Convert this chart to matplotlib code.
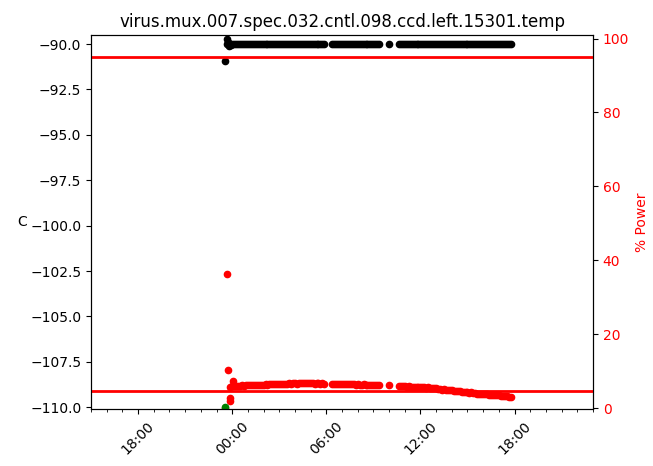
import datetime as dt

import matplotlib
matplotlib.use("Agg")
import matplotlib.pyplot as plt
import matplotlib.dates as mdates

# --- data (hours relative to midnight) ---
base = dt.datetime(2016, 5, 11)

# startup transient
temp_start_h = [-0.43, -0.35, -0.30, -0.25, -0.18, -0.12, -0.05]
temp_start = [-90.92, -90.0, -89.7, -89.9, -90.1, -90.0, -90.05]
power_start_h = [-0.45, -0.34, -0.27, -0.17, -0.14, -0.12, 0.08]
power_start = [0.0, 36.2, 10.3, 2.0, 2.7, 5.8, 7.4]
green_h = [-0.45]
green_val = [0.4]

# steady running, 7.5 minute samples, with the gaps seen in the log
run_h = [0.0, 0.125, 0.25, 0.375, 0.5, 0.625, 0.75, 0.875,
         1.0, 1.125, 1.25, 1.375, 1.5, 1.625, 1.75, 1.875,
         2.0, 2.125, 2.25, 2.375, 2.5, 2.625, 2.75, 2.875,
         3.0, 3.125, 3.25, 3.375, 3.5, 3.625, 3.75, 3.875,
         4.0, 4.125, 4.25, 4.375, 4.5, 4.625, 4.75, 4.875,
         5.0, 5.125, 5.25, 5.375, 5.5, 5.625, 5.75, 5.875,
         6.375, 6.5, 6.625, 6.75, 6.875, 7.0, 7.125, 7.25,
         7.375, 7.5, 7.625, 7.75, 7.875, 8.0, 8.125, 8.25,
         8.375, 8.5, 8.625, 8.75, 8.875, 9.0, 9.125, 9.25, 9.375,
         10.0,
         10.625, 10.75, 10.875, 11.0, 11.125, 11.25, 11.375, 11.5,
         11.625, 11.75, 11.875, 12.0, 12.125, 12.25, 12.375, 12.5,
         12.625, 12.75, 12.875, 13.0, 13.125, 13.25, 13.375, 13.5,
         13.625, 13.75, 13.875, 14.0, 14.125, 14.25, 14.375, 14.5,
         14.625, 14.75, 14.875, 15.0, 15.125, 15.25, 15.375, 15.5,
         15.625, 15.75, 15.875, 16.0, 16.125, 16.25, 16.375, 16.5,
         16.625, 16.75, 16.875, 17.0, 17.125, 17.25, 17.375, 17.5,
         17.625, 17.75]
run_temp = [-90.0, -90.01, -90.0, -89.99, -90.0, -90.0, -90.01, -90.0,
            -90.0, -89.99, -90.0, -90.0, -90.01, -90.0, -90.0, -89.99,
            -90.0, -90.0, -90.01, -90.0, -90.0, -89.99, -90.0, -90.0,
            -90.01, -90.0, -90.0, -89.99, -90.0, -90.0, -90.01, -90.0,
            -90.0, -89.99, -90.0, -90.0, -90.01, -90.0, -90.0, -89.99,
            -90.0, -90.0, -90.01, -90.0, -90.0, -89.99, -90.0, -90.0,
            -90.0, -90.01, -90.0, -90.0, -89.99, -90.0, -90.0, -90.01,
            -90.0, -90.0, -89.99, -90.0, -90.0, -90.01, -90.0, -90.0,
            -89.99, -90.0, -90.0, -90.01, -90.0, -90.0, -89.99, -90.0, -90.0,
            -90.0,
            -90.0, -90.01, -90.0, -90.0, -89.99, -90.0, -90.0, -90.01,
            -90.0, -90.0, -89.99, -90.0, -90.0, -90.01, -90.0, -90.0,
            -89.99, -90.0, -90.0, -90.01, -90.0, -90.0, -89.99, -90.0,
            -90.0, -90.01, -90.0, -90.0, -89.99, -90.0, -90.0, -90.01,
            -90.0, -90.0, -89.99, -90.0, -90.0, -90.01, -90.0, -90.0,
            -89.99, -90.0, -90.0, -90.01, -90.0, -90.0, -89.99, -90.0,
            -90.0, -90.01, -90.0, -90.0, -89.99, -90.0, -90.0, -90.01,
            -90.0, -90.0]
run_power = [6.0, 5.9, 5.9, 6.0, 6.0, 6.1, 6.0, 6.1,
             6.1, 6.2, 6.1, 6.2, 6.2, 6.3, 6.2, 6.3,
             6.3, 6.4, 6.3, 6.4, 6.4, 6.5, 6.4, 6.5,
             6.5, 6.6, 6.5, 6.6, 6.6, 6.7, 6.6, 6.7,
             6.7, 6.6, 6.7, 6.8, 6.7, 6.7, 6.8, 6.7,
             6.7, 6.8, 6.6, 6.7, 6.7, 6.6, 6.7, 6.6,
             6.6, 6.6, 6.5, 6.6, 6.5, 6.5, 6.5, 6.4,
             6.5, 6.4, 6.5, 6.4, 6.3, 6.4, 6.3, 6.3,
             6.4, 6.2, 6.3, 6.2, 6.2, 6.1, 6.2, 6.1, 6.1,
             6.1,
             6.0, 5.9, 6.0, 5.9, 5.8, 5.9, 5.8, 5.8,
             5.7, 5.8, 5.7, 5.7, 5.6, 5.6, 5.5, 5.6,
             5.4, 5.5, 5.3, 5.3, 5.2, 5.2, 5.0, 5.1,
             4.9, 4.9, 4.8, 4.8, 4.6, 4.7, 4.5, 4.5,
             4.4, 4.4, 4.2, 4.3, 4.1, 4.2, 4.0, 4.0,
             3.9, 3.9, 3.8, 3.8, 3.7, 3.7, 3.6, 3.6,
             3.5, 3.5, 3.4, 3.4, 3.3, 3.3, 3.2, 3.2,
             3.1, 3.0]

# power limit lines
power_limits = [95.0, 4.5]


def to_dates(hours):
    return [base + dt.timedelta(hours=h) for h in hours]


fig = plt.figure(figsize=(6.53, 4.66), dpi=100)
ax = fig.add_axes([0.1394, 0.1223, 0.7687, 0.8026])
ax2 = ax.twinx()

ms = 4.5
ax.plot(to_dates(temp_start_h), temp_start, 'ko', ms=ms)
ax.plot(to_dates(run_h), run_temp, 'ko', ms=ms)

for lim in power_limits:
    ax2.axhline(lim, color='red', lw=2)
ax2.plot(to_dates(power_start_h), power_start, 'ro', ms=ms)
ax2.plot(to_dates(run_h), run_power, 'ro', ms=ms)
ax2.plot(to_dates(green_h), green_val, 'o', color='green', ms=ms)

ax.set_xlim(base - dt.timedelta(hours=9), base + dt.timedelta(hours=23))
ax.set_ylim(-110.1, -89.5)
ax2.set_ylim(-0.27, 100.95)

ax.xaxis.set_major_locator(mdates.HourLocator(byhour=[0, 6, 12, 18]))
ax.xaxis.set_minor_locator(mdates.HourLocator())
ax.xaxis.set_major_formatter(mdates.DateFormatter('%H:%M'))
for lbl in ax.get_xticklabels():
    lbl.set_rotation(45)
    lbl.set_ha('center')

ax.set_ylabel('C', rotation=0, ha='center', va='center')
ax.yaxis.set_label_coords(-0.137, 0.5)
ax2.set_ylabel('% Power', color='red')
ax2.tick_params(axis='y', labelcolor='red')

ax.set_title('virus.mux.007.spec.032.cntl.098.ccd.left.15301.temp')

fig.savefig('out.png', dpi=100)
